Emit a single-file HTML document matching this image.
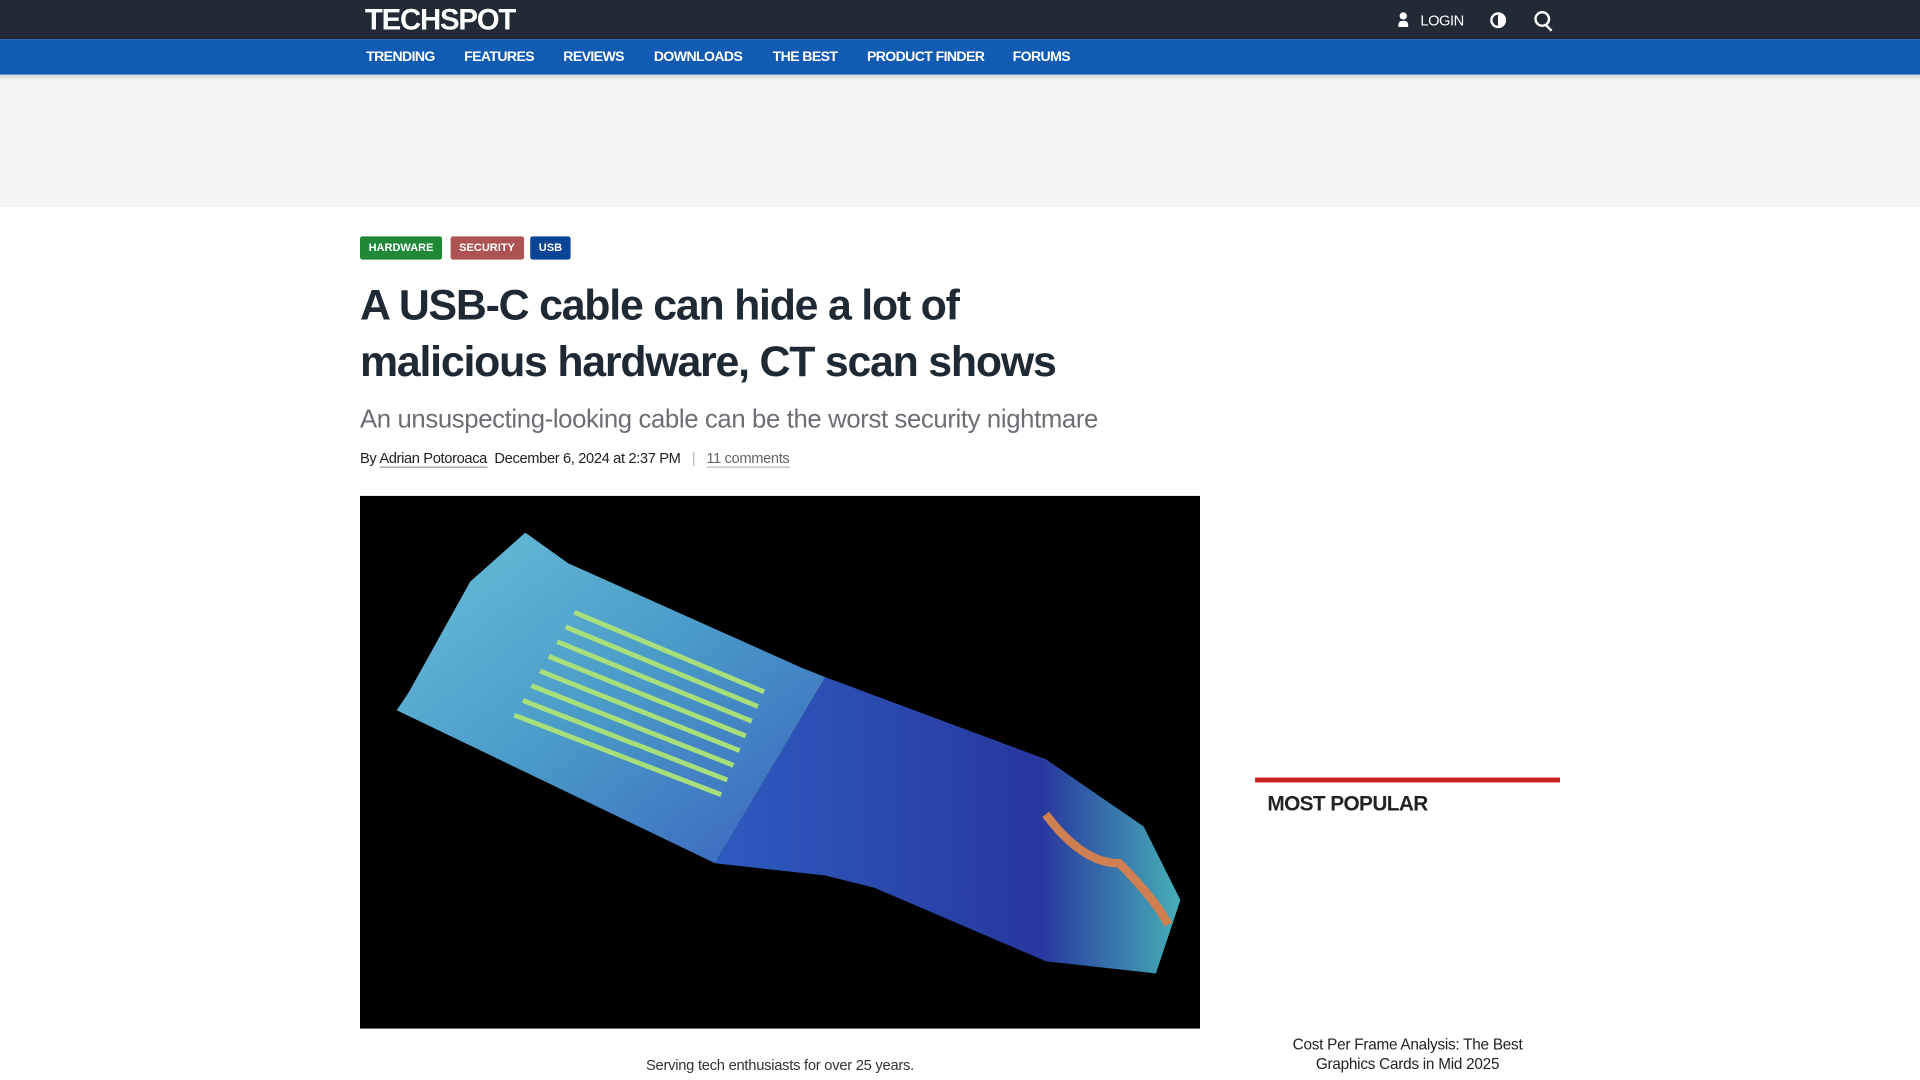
<!DOCTYPE html>
<html><head><meta charset="utf-8">
<style>
html,body{margin:0;padding:0;width:1920px;height:1080px;overflow:hidden;background:#fff;font-family:"Liberation Sans",sans-serif;}
#wrap{position:absolute;left:0;top:0;width:1568px;height:882px;transform:scale(1.22449);transform-origin:0 0;}
.abs{position:absolute;}
#top{left:0;top:0;width:1568px;height:32px;background:#212a35;}
#nav{left:0;top:32px;width:1568px;height:29px;background:#115bb3;}
#navline{left:0;top:61px;width:1568px;height:3px;background:#dcdde0;}
#ad{left:0;top:64px;width:1568px;height:105px;background:#f4f4f4;}
.navi{position:absolute;top:9px;color:#fff;font-size:11.5px;font-weight:bold;letter-spacing:-0.5px;}
.tag{position:absolute;top:193px;height:19px;line-height:19px;color:#fff;font-size:9px;font-weight:bold;padding:0 7px;border-radius:2px;}
</style></head><body>
<div id="wrap">
<div id="top" class="abs">
 <div class="abs" style="left:298px;top:3px;color:#fff;font-size:24px;font-weight:bold;letter-spacing:-1px;">TECHSPOT</div>
 <div class="abs" style="left:1142px;top:10px;width:8px;height:12px;"><div style="width:6px;height:6px;border-radius:50%;background:#fff;margin-left:1px"></div><div style="width:8px;height:5px;background:#fff;border-radius:3px 3px 0 0;margin-top:1px"></div></div>
 <div class="abs" style="left:1160px;top:10px;color:#fff;font-size:12px;letter-spacing:-0.4px;">LOGIN</div>
 <div class="abs" style="left:1217px;top:10px;width:9px;height:9px;border:2px solid #fff;border-radius:50%;background:linear-gradient(90deg,#212a35 50%,#fff 50%);"></div>
 <div class="abs" style="left:1253px;top:9px;width:9px;height:9px;border:2px solid #fff;border-radius:50%;"></div>
 <div class="abs" style="left:1264px;top:20px;width:2px;height:6px;background:#fff;transform:rotate(-45deg);"></div>
</div>
<div id="nav" class="abs">
 <span class="navi" style="left:299px">TRENDING</span>
 <span class="navi" style="left:379px">FEATURES</span>
 <span class="navi" style="left:460px">REVIEWS</span>
 <span class="navi" style="left:534px">DOWNLOADS</span>
 <span class="navi" style="left:631px">THE BEST</span>
 <span class="navi" style="left:708px">PRODUCT FINDER</span>
 <span class="navi" style="left:827px">FORUMS</span>
</div>
<div id="navline" class="abs"></div>
<div id="ad" class="abs"></div>

<span class="tag" style="left:294px;background:#218838">HARDWARE</span>
<span class="tag" style="left:368px;background:#ad5353">SECURITY</span>
<span class="tag" style="left:433px;background:#0a4596">USB</span>

<h1 class="abs" style="left:294px;top:227px;margin:0;width:600px;font-size:35px;line-height:46px;font-weight:bold;color:#1f2933;letter-spacing:-1px;">A USB-C cable can hide a lot of<br>malicious hardware, CT scan shows</h1>
<div class="abs" style="left:294px;top:331px;font-size:21px;color:#6b6f75;letter-spacing:-0.3px;">An unsuspecting-looking cable can be the worst security nightmare</div>
<div class="abs" style="left:294px;top:367px;font-size:12px;color:#222;letter-spacing:-0.3px;">By <span style="border-bottom:1px solid #999;">Adrian Potoroaca</span>&nbsp; December 6, 2024 at 2:37 PM &nbsp;&nbsp;<span style="color:#bbb">|</span>&nbsp;&nbsp; <span style="color:#666;border-bottom:1px solid #bbb;">11 comments</span></div>

<div class="abs" style="left:294px;top:405px;width:686px;height:435px;background:#000;overflow:hidden;">
<svg width="686" height="435" viewBox="0 0 686 435">
<defs>
<linearGradient id="g1" x1="0" y1="0" x2="1" y2="1"><stop offset="0" stop-color="#6ac0d8"/><stop offset="0.5" stop-color="#4a9ac8"/><stop offset="1" stop-color="#3a60c0"/></linearGradient>
<linearGradient id="g2" x1="0" y1="0" x2="1" y2="0"><stop offset="0" stop-color="#3060c8"/><stop offset="0.7" stop-color="#2a3aa8"/><stop offset="1" stop-color="#4ab8c0"/></linearGradient>
</defs>
<polygon points="135,30 170,55 360,140 380,148 290,300 30,175 40,160 90,70" fill="url(#g1)"/>
<polygon points="380,148 560,215 640,270 670,330 650,390 560,380 420,320 380,310 290,300" fill="url(#g2)" opacity="0.95"/>
<g stroke="#a6e07a" stroke-width="4" fill="none">
<path d="M175,95 L330,160"/><path d="M168,107 L325,172"/><path d="M161,119 L320,184"/><path d="M154,131 L315,196"/><path d="M147,143 L310,208"/><path d="M140,155 L305,220"/><path d="M133,167 L300,232"/><path d="M126,179 L295,244"/>
</g>
<path d="M560,260 Q590,300 620,300 Q650,330 660,350" stroke="#d08050" stroke-width="7" fill="none"/>
</svg>
</div>
<div class="abs" style="left:294px;width:686px;top:863px;text-align:center;font-size:12px;color:#333;letter-spacing:-0.2px;">Serving tech enthusiasts for over 25 years.</div>

<div class="abs" style="left:1025px;top:635px;width:249px;height:4px;background:#cc1f1f;"></div>
<div class="abs" style="left:1035px;top:647px;font-size:17px;font-weight:bold;color:#222;letter-spacing:-0.5px;">MOST POPULAR</div>
<div class="abs" style="left:1040px;width:219px;top:845px;text-align:center;font-size:12.5px;line-height:16px;color:#222;letter-spacing:-0.2px;">Cost Per Frame Analysis: The Best Graphics Cards in Mid 2025</div>
</div>
</body></html>
